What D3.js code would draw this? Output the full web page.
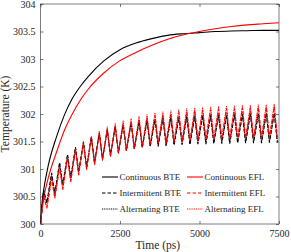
<!DOCTYPE html>
<html>
<head>
  <script src="https://cdn.jsdelivr.net/npm/d3@7"></script>
  <style>
    body { margin: 0; background: #fff; }
  </style>
</head>
<body>
<script>
  // continuous heating curves
  const contTime = [0, 50, 100, 250, 500, 750, 1000, 1250, 1500, 2000, 2500, 3000, 3500, 4000, 4500, 5000, 5500, 6000, 6500, 7000, 7500];
  const contBTE = [300, 300.4, 300.62, 301.08, 301.58, 301.98, 302.28, 302.5, 302.68, 302.97, 303.17, 303.29, 303.37, 303.43, 303.46, 303.48, 303.5, 303.51, 303.515, 303.52, 303.52];
  const contEFL = [300, 300.28, 300.47, 300.85, 301.3, 301.7, 302.0, 302.25, 302.45, 302.75, 302.97, 303.12, 303.25, 303.36, 303.44, 303.5, 303.55, 303.59, 303.62, 303.64, 303.66];

  // pulsed heating: local peaks and troughs of each cycle
  const peakTime = d3.range(100, 7500, 250);
  const troughTime = d3.range(200, 7500, 250);

  const intBTEPeak = [300.62,300.93,301.12,301.27,301.40,301.50,301.59,301.66,301.72,301.77,301.81,301.84,301.87,301.89,301.91,301.93,301.94,301.95,301.96,301.97,301.98,301.98,301.99,301.99,302.00,302.00,302.01,302.01,302.02,302.02];
  const intBTETrough = [300.38,300.55,300.70,300.83,300.94,301.03,301.11,301.18,301.24,301.29,301.33,301.36,301.38,301.40,301.41,301.42,301.43,301.44,301.44,301.45,301.45,301.46,301.46,301.46,301.47,301.47,301.47,301.47,301.48,301.48];
  const altBTEPeak = [300.58,300.90,301.10,301.25,301.38,301.48,301.57,301.64,301.70,301.75,301.79,301.82,301.85,301.87,301.89,301.91,301.92,301.93,301.94,301.95,301.96,301.96,301.97,301.97,301.98,301.98,301.99,301.99,301.99,302.00];
  const altBTETrough = [300.40,300.57,300.72,300.85,300.96,301.05,301.13,301.20,301.26,301.31,301.35,301.38,301.40,301.42,301.43,301.44,301.45,301.46,301.46,301.47,301.47,301.48,301.48,301.48,301.49,301.49,301.49,301.49,301.50,301.50];
  const intEFLPeak = [300.50,300.82,301.03,301.20,301.34,301.46,301.56,301.65,301.72,301.78,301.83,301.87,301.91,301.94,301.97,301.99,302.01,302.03,302.04,302.06,302.07,302.08,302.09,302.10,302.10,302.11,302.11,302.12,302.12,302.13];
  const intEFLTrough = [300.30,300.48,300.64,300.78,300.90,301.00,301.09,301.17,301.24,301.30,301.35,301.39,301.42,301.45,301.47,301.49,301.50,301.51,301.52,301.53,301.54,301.54,301.55,301.55,301.56,301.56,301.56,301.57,301.57,301.57];
  const altEFLPeak = [300.52,300.84,301.05,301.22,301.37,301.49,301.60,301.69,301.77,301.83,301.88,301.92,301.96,301.99,302.02,302.04,302.06,302.08,302.10,302.11,302.12,302.13,302.14,302.15,302.15,302.16,302.16,302.17,302.17,302.18];
  const altEFLTrough = [300.28,300.46,300.62,300.76,300.88,300.98,301.07,301.15,301.22,301.28,301.33,301.37,301.40,301.43,301.45,301.47,301.48,301.49,301.50,301.51,301.52,301.52,301.53,301.53,301.54,301.54,301.54,301.55,301.55,301.55];

  const xTicks = [0, 2500, 5000, 7500];
  const yTicks = [300, 300.5, 301, 301.5, 302, 302.5, 303, 303.5, 304];
  const legendLabels = ["Continuous BTE", "Continuous EFL", "Intermittent BTE", "Intermittent EFL", "Alternating BTE", "Alternating EFL"];

  const serif = "'Liberation Serif', serif";
  const width = 291, height = 252;
  const margin = {left: 40.5, right: 12, top: 4, bottom: 28};

  const svg = d3.select("body").append("svg")
    .attr("width", width)
    .attr("height", height);

  const x = d3.scaleLinear().domain([0, 7500]).range([margin.left, width - margin.right]);
  const y = d3.scaleLinear().domain([300, 304]).range([height - margin.bottom, margin.top]);

  // build pulsed series from start point + alternating peaks/troughs
  function pulsed(peaks, troughs) {
    const pts = [[0, 300]];
    for (let i = 0; i < peaks.length; i++) {
      pts.push([peakTime[i], peaks[i]]);
      pts.push([troughTime[i], troughs[i]]);
    }
    return pts;
  }

  const smooth = d3.line().x(d => x(d[0])).y(d => y(d[1])).curve(d3.curveMonotoneX);
  const jagged = d3.line().x(d => x(d[0])).y(d => y(d[1]));

  const series = [
    {pts: contTime.map((t, i) => [t, contBTE[i]]), color: "#000", dash: null, w: 1.1, gen: smooth},
    {pts: contTime.map((t, i) => [t, contEFL[i]]), color: "#f00", dash: null, w: 1.1, gen: smooth},
    {pts: pulsed(intBTEPeak, intBTETrough), color: "#000", dash: "3.5,2", w: 1.1, gen: jagged},
    {pts: pulsed(altBTEPeak, altBTETrough), color: "#000", dash: "1,0.8", w: 1, gen: jagged},
    {pts: pulsed(intEFLPeak, intEFLTrough), color: "#f00", dash: "3.5,2", w: 1.1, gen: jagged},
    {pts: pulsed(altEFLPeak, altEFLTrough), color: "#f00", dash: "1,0.8", w: 1, gen: jagged}
  ];

  svg.append("g").selectAll("path")
    .data(series)
    .enter()
    .append("path")
    .attr("d", d => d.gen(d.pts))
    .attr("fill", "none")
    .attr("stroke", d => d.color)
    .attr("stroke-width", d => d.w)
    .attr("stroke-dasharray", d => d.dash);

  // box and inward ticks
  const x0 = x.range()[0], x1 = x.range()[1], y0 = y.range()[0], y1 = y.range()[1];
  svg.append("rect")
    .attr("x", x0).attr("y", y1)
    .attr("width", x1 - x0).attr("height", y0 - y1)
    .attr("fill", "none").attr("stroke", "#262626").attr("stroke-width", 0.6);

  svg.append("g").attr("transform", `translate(0,${y0})`)
    .call(d3.axisBottom(x).tickValues(xTicks).tickSizeInner(-3).tickSizeOuter(0).tickPadding(6).tickFormat(d3.format("d")))
    .call(g => g.select(".domain").remove());
  svg.append("g").attr("transform", `translate(0,${y1})`)
    .call(d3.axisTop(x).tickValues(xTicks).tickSizeInner(-3).tickSizeOuter(0).tickFormat(""))
    .call(g => g.select(".domain").remove());
  svg.append("g").attr("transform", `translate(${x0},0)`)
    .call(d3.axisLeft(y).tickValues(yTicks).tickSizeInner(-3).tickSizeOuter(0).tickPadding(5).tickFormat(d3.format("")))
    .call(g => g.select(".domain").remove());
  svg.append("g").attr("transform", `translate(${x1},0)`)
    .call(d3.axisRight(y).tickValues(yTicks).tickSizeInner(-3).tickSizeOuter(0).tickFormat(""))
    .call(g => g.select(".domain").remove());

  svg.selectAll(".tick line").attr("stroke", "#262626").attr("stroke-width", 0.6);
  svg.selectAll(".tick text")
    .attr("font-family", serif)
    .attr("font-size", 10)
    .attr("fill", "#262626");

  svg.append("text")
    .attr("x", (x0 + x1) / 2 - 2)
    .attr("y", 249)
    .attr("text-anchor", "middle")
    .attr("font-family", serif)
    .attr("font-size", 11.5)
    .attr("fill", "#262626")
    .text("Time (ps)");

  svg.append("text")
    .attr("transform", `translate(9,${(y0 + y1) / 2}) rotate(-90)`)
    .attr("text-anchor", "middle")
    .attr("font-family", serif)
    .attr("font-size", 11.5)
    .attr("fill", "#262626")
    .text("Temperature (K)");

  // legend, two columns, no box
  const legendItems = [
    {label: legendLabels[0], color: "#000", dash: null},
    {label: legendLabels[1], color: "#f00", dash: null},
    {label: legendLabels[2], color: "#000", dash: "3.5,2"},
    {label: legendLabels[3], color: "#f00", dash: "3.5,2"},
    {label: legendLabels[4], color: "#000", dash: "1,0.8"},
    {label: legendLabels[5], color: "#f00", dash: "1,0.8"}
  ];
  const colX = [102, 187];
  const rowY = [177, 193, 209];
  const leg = svg.append("g").selectAll("g")
    .data(legendItems)
    .enter()
    .append("g")
    .attr("transform", (d, i) => `translate(${colX[i % 2]},${rowY[Math.floor(i / 2)]})`);
  leg.append("line")
    .attr("x1", 0).attr("x2", 16)
    .attr("stroke", d => d.color)
    .attr("stroke-width", 1.1)
    .attr("stroke-dasharray", d => d.dash);
  leg.append("text")
    .attr("x", 17.5)
    .attr("dy", "0.33em")
    .attr("font-family", serif)
    .attr("font-size", 9)
    .attr("fill", "#262626")
    .text(d => d.label);
</script>
</body>
</html>
